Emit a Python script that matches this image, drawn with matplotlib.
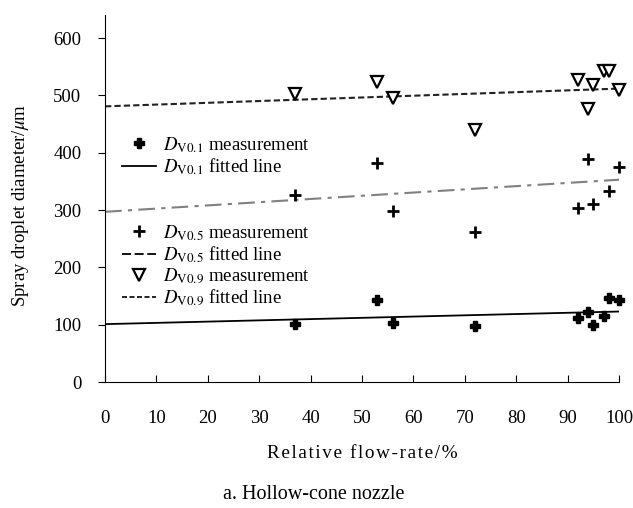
import matplotlib.pyplot as plt
from matplotlib.lines import Line2D

plt.rcParams['font.family'] = ['Liberation Serif', 'DejaVu Serif']
plt.rcParams['mathtext.fontset'] = 'stix'

# data
flow = [37, 53, 56, 72, 92, 94, 95, 97, 98, 100]
d01 = [101, 143, 103, 97, 112, 123, 100, 115, 147, 143]
flow05 = [37, 53, 56, 72, 92, 94, 95, 98, 100]
d05 = [326, 382, 299, 261, 303, 389, 310, 334, 375]
d09 = [503, 524, 496, 439, 527, 476, 519, 542, 542, 509]

fit_x = [0, 100]
fit01 = [101, 123]
fit05 = [297, 353]
fit09 = [481, 512]

fig = plt.figure(figsize=(6.33, 5.08), dpi=100)
ax = fig.add_axes([0.166, 0.248, 0.812, 0.722])

ax.plot(fit_x, fit01, color='black', lw=1.3, ls='-')
ax.plot(fit_x, fit05, color='#808080', lw=1.5, ls=(0, (8, 3, 2, 3)))
ax.plot(fit_x, fit09, color='#222222', lw=1.5, ls=(0, (3, 1.5)))

ax.plot(flow, d01, ls='none', marker='P', ms=6.5, color='black', clip_on=False)
ax.plot(flow05, d05, ls='none', marker='+', ms=9, mew=2, color='black', clip_on=False)
ax.plot(flow, d09, ls='none', marker='v', ms=8.5, mew=1.6, mfc='white', mec='black',
        clip_on=False)

ax.set_xlim(0, 100)
ax.set_ylim(0, 640)
ax.set_xticks(range(0, 101, 10))
ax.set_yticks(range(0, 601, 100))
ax.spines['top'].set_visible(False)
ax.spines['right'].set_visible(False)
ax.tick_params(axis='x', direction='in', length=5, pad=20, labelsize=13.5)
ax.tick_params(axis='y', direction='out', length=5, pad=12, labelsize=13.5)

xlab = '\u200a'.join('Relative flow-rate/%')
ax.set_xlabel(xlab, fontsize=13.8)
ax.xaxis.set_label_coords(0.5, -0.172)
ax.set_ylabel(r'Spray droplet diameter/$\mu$m', fontsize=13.5)
ax.yaxis.set_label_coords(-0.145, 0.482)
fig.text(0.496, 0.026, 'a. Hollow-cone nozzle', ha='center', va='center', fontsize=14.5)

h1 = [Line2D([], [], ls='none', marker='P', ms=6.5, color='black'),
      Line2D([], [], color='black', lw=1.3)]
l1 = [r'$D_{\mathrm{V0.1}}$ measurement', r'$D_{\mathrm{V0.1}}$ fitted line']
leg1 = ax.legend(h1, l1, loc='upper left', bbox_to_anchor=(0.0, 0.72),
                 frameon=False, fontsize=13.5, handlelength=1.8,
                 labelspacing=0.1, handletextpad=0.4)
ax.add_artist(leg1)

h2 = [Line2D([], [], ls='none', marker='+', ms=9, mew=2, color='black'),
      Line2D([], [], color='black', lw=1.3, ls=(0, (5, 2))),
      Line2D([], [], ls='none', marker='v', ms=8.5, mew=1.6, mfc='white', mec='black'),
      Line2D([], [], color='black', lw=1.2, ls=(0, (3, 1.5)))]
l2 = [r'$D_{\mathrm{V0.5}}$ measurement', r'$D_{\mathrm{V0.5}}$ fitted line',
      r'$D_{\mathrm{V0.9}}$ measurement', r'$D_{\mathrm{V0.9}}$ fitted line']
ax.legend(h2, l2, loc='upper left', bbox_to_anchor=(0.0, 0.48),
          frameon=False, fontsize=13.5, handlelength=1.8,
          labelspacing=0.1, handletextpad=0.4)

fig.savefig('out.png', dpi=100)
